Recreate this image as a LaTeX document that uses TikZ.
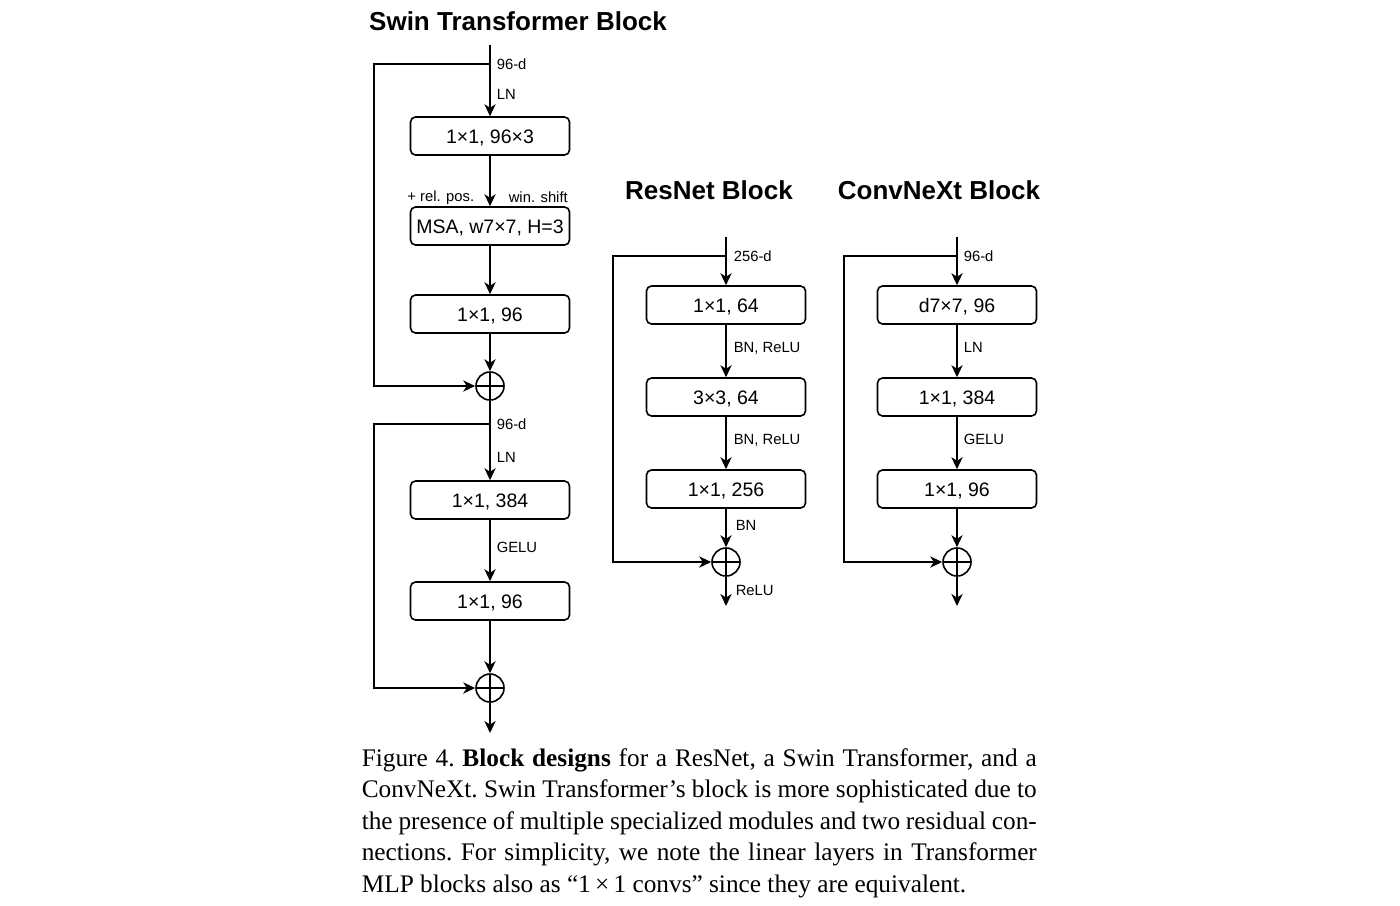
\documentclass[tikz,border=0pt]{standalone}
\usepackage{fontspec}
\setmainfont{Liberation Serif}
\newfontfamily\lab{Liberation Sans}
\usetikzlibrary{arrows.meta}
\begin{document}
\begin{tikzpicture}[x=0.5pt,y=-0.5pt,
 line width=0.8pt,
 arr/.style={-{Stealth[length=6pt,width=5.6pt,inset=1.8pt]}},
 blk/.style={draw, rounded corners=2.5pt, minimum width=79.5pt, minimum height=19pt, inner sep=0pt,
   font=\lab\fontsize{9.75}{11}\selectfont, text height=7pt, text depth=0pt},
 sumnode/.style={draw, circle, minimum size=14pt, inner sep=0pt,
   path picture={\draw[line width=0.6pt] (path picture bounding box.north) -- (path picture bounding box.south)
     (path picture bounding box.west) -- (path picture bounding box.east);}},
 lbl/.style={font=\lab\fontsize{7.4}{9}\selectfont, inner sep=0pt, text height=5.3pt, text depth=0pt, anchor=west},
 ttl/.style={font=\lab\bfseries\fontsize{13}{15}\selectfont, inner sep=0pt, anchor=base}
]
\useasboundingbox (0,0) rectangle (1400,905);
\fill[white] (0,0) rectangle (1400,905);

% ---------------- Swin Transformer ----------------
\node[ttl] (t1) at (518,30) {Swin Transformer Block};
\coordinate (s0) at (490,45);
\coordinate (sb1) at (490,64);
\node[blk] (s1) at (490,136) {1×1, 96×3};
\node[blk] (s2) at (490,226) {MSA, w7×7, H=3};
\node[blk] (s3) at (490,314) {1×1, 96};
\node[sumnode] (p1) at (490,386) {};
\coordinate (sb2) at (490,424);
\node[blk] (s4) at (490,500) {1×1, 384};
\node[blk] (s5) at (490,601) {1×1, 96};
\node[sumnode] (p2) at (490,688) {};
\coordinate (s6) at (490,733);

\draw[arr] (s0) -- (s1);
\draw[arr] (sb1) -- ++(-116,0) |- (p1.west);
\draw[arr] (s1) -- (s2);
\draw[arr] (s2) -- (s3);
\draw[arr] (s3) -- (p1);
\draw[arr] (p1) -- (s4);
\draw[arr] (sb2) -- ++(-116,0) |- (p2.west);
\draw[arr] (s4) -- (s5);
\draw[arr] (s5) -- (p2);
\draw[arr] (p2) -- (s6);

\node[lbl] (l1) at (496,64) {96-d};
\node[lbl] (l2) at (496,94) {LN};
\node[lbl, anchor=east] (l3) at (475,196) {+ rel. pos.};
\node[lbl] (l4) at (508,197) {win. shift};
\node[lbl] (l5) at (496,424) {96-d};
\node[lbl] (l6) at (496,457) {LN};
\node[lbl] (l7) at (496,547) {GELU};

% ---------------- ResNet ----------------
\node[ttl] (t2) at (709,199) {ResNet Block};
\coordinate (r0) at (726,237);
\coordinate (rb) at (726,256);
\node[blk] (r1) at (726,305) {1×1, 64};
\node[blk] (r2) at (726,397) {3×3, 64};
\node[blk] (r3) at (726,489) {1×1, 256};
\node[sumnode] (rp) at (726,562) {};
\coordinate (r4) at (726,606);

\draw[arr] (r0) -- (r1);
\draw[arr] (rb) -- ++(-113,0) |- (rp.west);
\draw[arr] (r1) -- (r2);
\draw[arr] (r2) -- (r3);
\draw[arr] (r3) -- (rp);
\draw[arr] (rp) -- (r4);

\node[lbl] (m1) at (733,256) {256-d};
\node[lbl] (m2) at (733,347) {BN, ReLU};
\node[lbl] (m3) at (733,439) {BN, ReLU};
\node[lbl] (m4) at (735,525) {BN};
\node[lbl] (m5) at (735,590) {ReLU};

% ---------------- ConvNeXt ----------------
\node[ttl] (t3) at (939,199) {ConvNeXt Block};
\coordinate (c0) at (957,237);
\coordinate (cb) at (957,256);
\node[blk] (c1) at (957,305) {d7×7, 96};
\node[blk] (c2) at (957,397) {1×1, 384};
\node[blk] (c3) at (957,489) {1×1, 96};
\node[sumnode] (cp) at (957,562) {};
\coordinate (c4) at (957,606);

\draw[arr] (c0) -- (c1);
\draw[arr] (cb) -- ++(-113,0) |- (cp.west);
\draw[arr] (c1) -- (c2);
\draw[arr] (c2) -- (c3);
\draw[arr] (c3) -- (cp);
\draw[arr] (cp) -- (c4);

\node[lbl] (n1) at (963,256) {96-d};
\node[lbl] (n2) at (963,347) {LN};
\node[lbl] (n3) at (963,439) {GELU};

% ---------------- Caption ----------------
\node[anchor=base west, inner sep=0pt, text width=337.5pt, align=justify,
  font=\fontsize{12.65}{15.75}\selectfont\frenchspacing] (cap) at (361,766)
 {Figure 4. \textbf{Block designs} for a ResNet, a Swin Transformer, and a\linebreak
  ConvNeXt. Swin Transformer’s block is more sophisticated due to\linebreak
  the presence of multiple specialized modules and two residual con-\linebreak
  nections. For simplicity, we note the linear layers in Transformer\linebreak
  MLP blocks also as “1\,×\,1 convs” since they are equivalent.};
\end{tikzpicture}
\end{document}
